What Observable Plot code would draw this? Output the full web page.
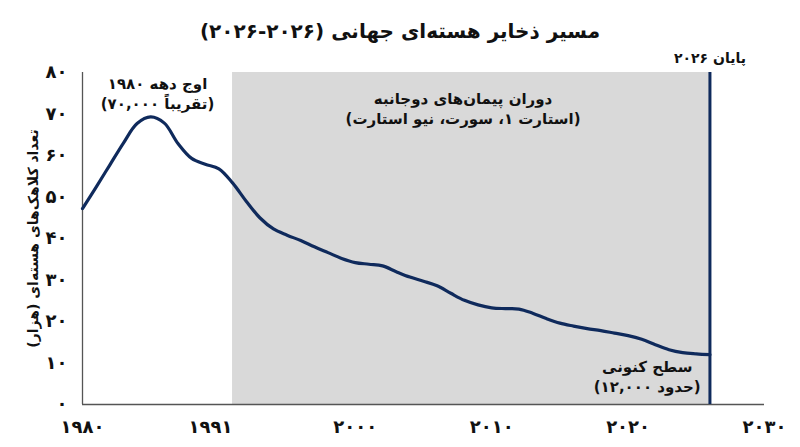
<!DOCTYPE html>
<html lang="fa">
<head>
<meta charset="utf-8">
<script src="https://cdn.jsdelivr.net/npm/d3@7"></script>
<script src="https://cdn.jsdelivr.net/npm/@observablehq/plot@0.6"></script>
<style>
body{margin:0;background:#fff;font-family:"DejaVu Sans",sans-serif;}
#title{height:50px;box-sizing:border-box;padding-top:20px;text-align:center;font-size:20px;line-height:22px;font-weight:bold;color:#111;direction:rtl;}
#chart svg{display:block}
</style>
</head>
<body>
<div id="title"></div>
<div id="chart"></div>
<script>
const title = "مسیر ذخایر هسته‌ای جهانی (۲۰۲۶-۲۰۲۶)";
const years = [1980,1981,1982,1983,1984,1985,1986,1987,1988,1989,1990,1991,1992,1993,1994,1995,1996,1997,1998,1999,2000,2001,2002,2003,2004,2005,2006,2007,2008,2009,2010,2011,2012,2013,2014,2015,2016,2017,2018,2019,2020,2021,2022,2023,2024,2025,2026];
const stockpile = [47.2,52.4,57.7,63.0,67.7,69.3,67.8,62.9,59.3,57.9,56.8,53.4,49.0,45.0,42.3,40.8,39.5,38.0,36.6,35.2,34.2,33.8,33.4,32.0,30.7,29.7,28.6,26.8,25.1,24.0,23.3,23.1,23.0,22.0,20.7,19.6,18.9,18.3,17.8,17.2,16.6,15.7,14.4,13.2,12.5,12.2,12.0];
const yTicks = [0,10,20,30,40,50,60,70,80];
const yTickLabels = ["۰","۱۰","۲۰","۳۰","۴۰","۵۰","۶۰","۷۰","۸۰"];
const xTicks = [1980,1991,2000,2010,2020,2030];
const xTickLabels = ["۱۹۸۰","۱۹۹۱","۲۰۰۰","۲۰۱۰","۲۰۲۰","۲۰۳۰"];
const treatyEra = {start: 1991, end: 2026};
const endYear = 2026;
const yLabel = "تعداد کلاهک‌های هسته‌ای (هزار)";
const annotations = [
  {year: 1985.5, value: 75.1, text: "اوج دهه ۱۹۸۰\n(تقریباً ۷۰,۰۰۰)"},
  {year: 2007.9, value: 71.6, text: "دوران پیمان‌های دوجانبه\n(استارت ۱، سورت، نیو استارت)"},
  {year: 2021.4, value: 7.0, text: "سطح کنونی\n(حدود ۱۲,۰۰۰)"}
];
const endLabel = {year: 2026, value: 83.4, text: "پایان ۲۰۲۶"};

const navy = "#0f2a5c";
const yLab = new Map(yTicks.map((t, i) => [t, yTickLabels[i]]));
const xLab = new Map(xTicks.map((t, i) => [t, xTickLabels[i]]));

document.getElementById("title").textContent = title;

const chart = Plot.plot({
  width: 800,
  height: 397,
  marginLeft: 82,
  marginRight: 36,
  marginTop: 22,
  marginBottom: 43,
  style: {fontFamily: "DejaVu Sans, sans-serif", fontSize: "16px", color: "#111", background: "#fff"},
  x: {domain: [1980, 2030], axis: null},
  y: {domain: [0, 80]},
  marks: [
    Plot.rect([treatyEra], {x1: d => d.start, x2: d => d.end, y1: 0, y2: 80, fill: "#d9d9d9"}),
    Plot.ruleX([1980], {y1: 0, y2: 80, stroke: "#555", strokeWidth: 1.3}),
    Plot.ruleY([0], {x1: 1980, x2: 2030, stroke: "#555", strokeWidth: 1.3}),
    Plot.line(stockpile, {x: years, y: stockpile, curve: "catmull-rom", stroke: navy, strokeWidth: 3.2}),
    Plot.ruleX([endYear], {y1: 0, y2: 80, stroke: navy, strokeWidth: 3}),
    Plot.axisY({ticks: yTicks, tickFormat: d => yLab.get(d), tickSize: 0, tickPadding: 15, fontSize: 18, fontWeight: "bold", label: null}),
    Plot.text(xTicks.filter(d => d !== treatyEra.start), {x: d => d, text: d => xLab.get(d), frameAnchor: "bottom", lineAnchor: "middle", dy: 23, fontSize: 18, fontWeight: "bold"}),
    Plot.text(xTicks.filter(d => d === treatyEra.start), {x: d => d, text: d => xLab.get(d), frameAnchor: "bottom", lineAnchor: "middle", dy: 23, textAnchor: "end", fontSize: 18, fontWeight: "bold"}),
    Plot.text([yLabel], {text: d => d, frameAnchor: "left", textAnchor: "middle", lineAnchor: "middle", dx: -49, rotate: -90, fontSize: 14, fontWeight: "bold"}),
    Plot.text(annotations, {x: "year", y: "value", text: "text", fontSize: 15, fontWeight: "bold", lineHeight: 1.35, fill: "#111"}),
    Plot.text([endLabel], {x: "year", y: "value", text: "text", fontSize: 14, fontWeight: "bold", fill: "#111"})
  ]
});

d3.select(chart).selectAll("text").each(function() {
  if (/[\u0621-\u06CC]/.test(this.textContent)) {
    this.setAttribute("direction", "rtl");
    this.style.direction = "rtl";
  }
});

document.getElementById("chart").appendChild(chart);
</script>
</body>
</html>
